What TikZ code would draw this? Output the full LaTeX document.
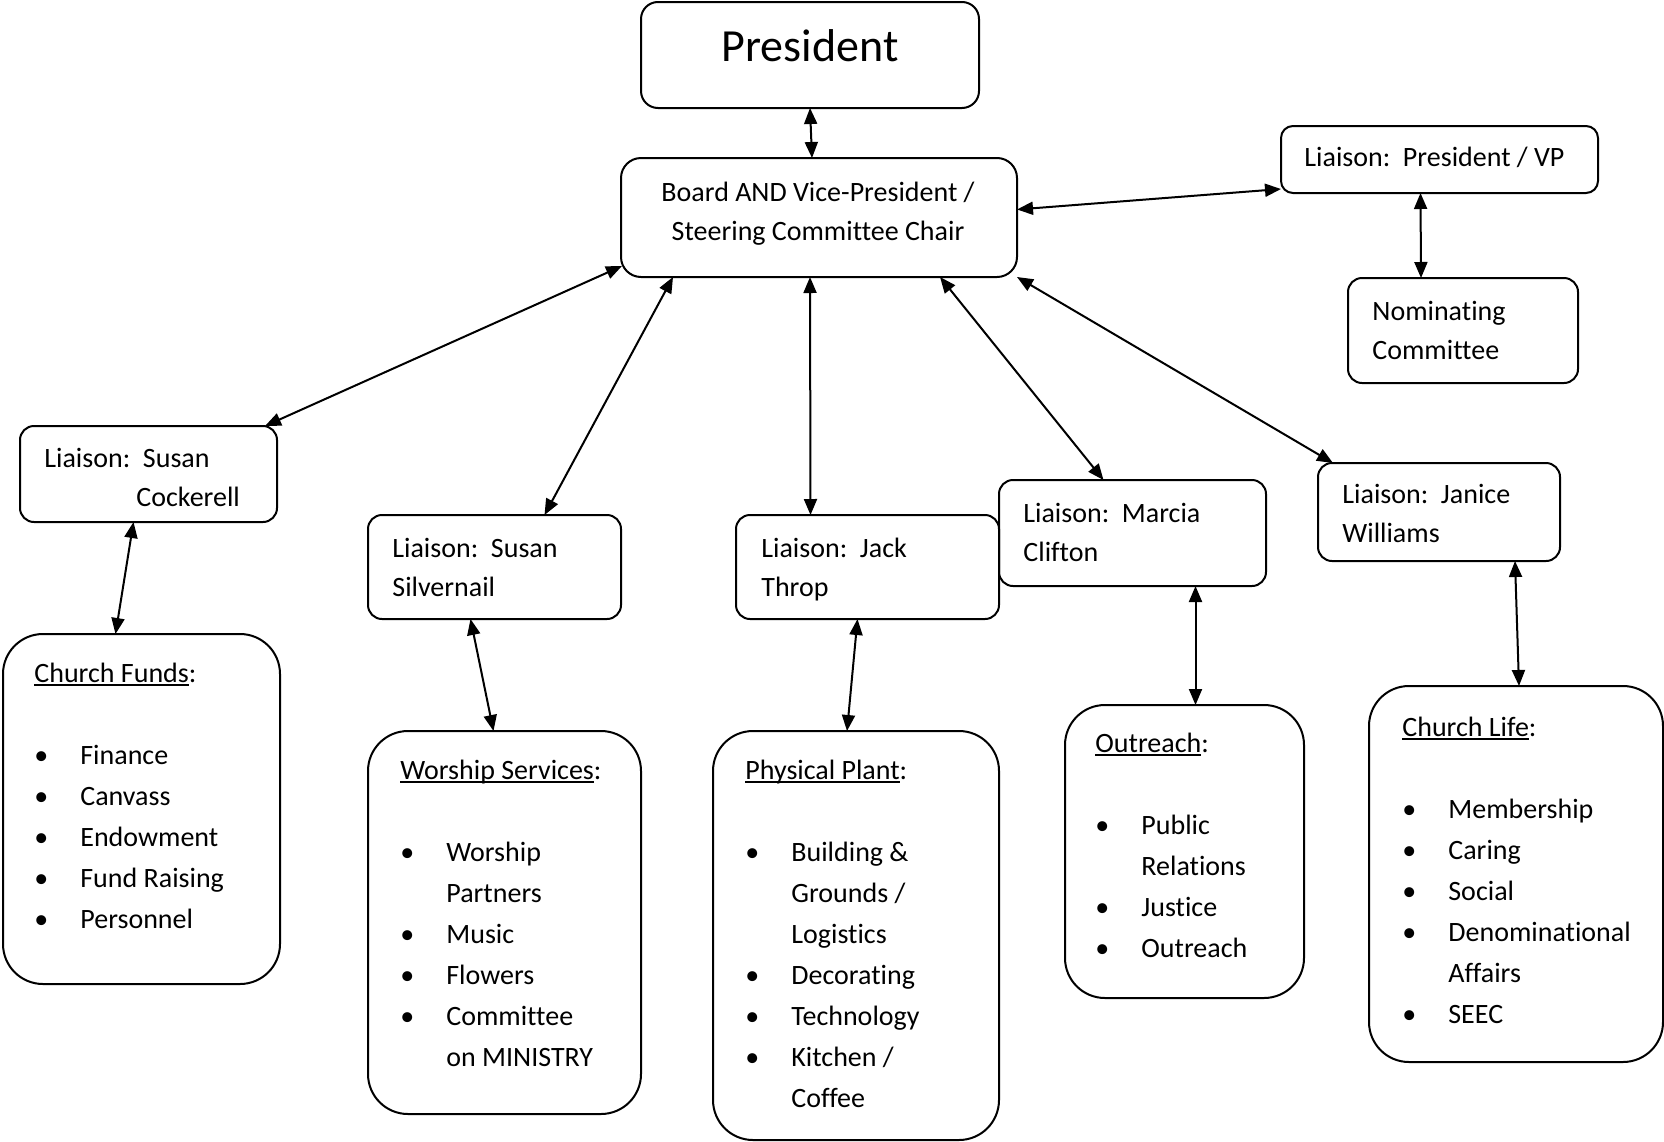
\documentclass[tikz,border=0pt]{standalone}
\usepackage{fontspec}
\setmainfont{Carlito}[Ligatures=NoCommon]
\usetikzlibrary{arrows.meta}

% bullet and indent for the lists
\newcommand\bul{\makebox[23pt][l]{\textbullet}}
\newcommand\itemgap{\hspace*{23pt}}
\newlength\ulwd
\newcommand\headul[1]{\settowidth\ulwd{#1}\rlap{\rule[-2pt]{\ulwd}{0.9pt}}#1}

\tikzset{
	box/.style={draw, line width=1pt, rounded corners=7pt, anchor=north west, inner sep=0pt, outer sep=0pt},
	listbox/.style={box, rounded corners=20pt},
	txt/.style={anchor=north west, align=left, inner sep=0pt, font=\fontsize{14}{19.75}\selectfont},
	listtxt/.style={txt, font=\fontsize{14}{20.5}\selectfont},
	link/.style={{Triangle[length=8pt,width=6.5pt]}-{Triangle[length=8pt,width=6.5pt]}, line width=1pt}
}

\begin{document}
\begin{tikzpicture}[x=0.5pt, y=-0.5pt]
	\useasboundingbox (0,0) rectangle (1664,1141);
	
	% Kasten oben
	\node[box, rounded corners=8.5pt, minimum width=169pt, minimum height=53pt] (pres) at (641,2) {};
	\node[box, rounded corners=10pt, minimum width=198pt, minimum height=59.5pt] (board) at (621,158) {};
	\node[box, rounded corners=6pt, minimum width=158.5pt, minimum height=33.5pt] (lpvp) at (1281,126) {};
	\node[box, minimum width=115pt, minimum height=52.5pt] (nom) at (1348,278) {};
	
	% Liaison-Kaesten
	\node[box, minimum width=128.5pt, minimum height=48pt] (lcock) at (20,426) {};
	\node[box, minimum width=126.5pt, minimum height=52pt] (lsilv) at (368,515) {};
	\node[box, minimum width=131.5pt, minimum height=52pt] (lthrop) at (736,515) {};
	\node[box, minimum width=133.5pt, minimum height=53pt] (lclif) at (999,480) {};
	\node[box, minimum width=121pt, minimum height=49pt] (ljan) at (1318,463) {};
	
	% Listen-Kaesten
	\node[listbox, minimum width=138.5pt, minimum height=175pt] (funds) at (3,634) {};
	\node[listbox, minimum width=136.5pt, minimum height=191.5pt] (worship) at (368,731) {};
	\node[listbox, minimum width=143pt, minimum height=204.5pt] (plant) at (713,731) {};
	\node[listbox, minimum width=119.5pt, minimum height=146.5pt] (outr) at (1065,705) {};
	\node[listbox, minimum width=147pt, minimum height=188pt] (life) at (1369,686) {};
	
	% Texte
	\node[anchor=base, inner sep=0pt, font=\fontsize{23}{28}\selectfont] (pres-t) at ([shift={(0,59)}]pres.north) {President};
	\node[txt, align=center, anchor=north] (board-t) at ([shift={(-1,15)}]board.north) {\strut Board AND Vice-President /\\Steering Committee Chair};
	\node[txt] (lpvp-t) at ([shift={(23,12)}]lpvp.north west) {\strut Liaison:\ \ President / VP};
	\node[txt] (nom-t) at ([shift={(24,14)}]nom.north west) {\strut Nominating\\Committee};
	\node[txt] (lcock-t) at ([shift={(24,13)}]lcock.north west) {\strut Liaison:\ \ Susan\\\hspace*{46pt}Cockerell};
	\node[txt] (lsilv-t) at ([shift={(24,14)}]lsilv.north west) {\strut Liaison:\ \ Susan\\Silvernail};
	\node[txt] (lthrop-t) at ([shift={(25,14)}]lthrop.north west) {\strut Liaison:\ \ Jack\\Throp};
	\node[txt] (lclif-t) at ([shift={(24,14)}]lclif.north west) {\strut Liaison:\ \ Marcia\\Clifton};
	\node[txt] (ljan-t) at ([shift={(24,12)}]ljan.north west) {\strut Liaison:\ \ Janice\\Williams};
	
	\node[listtxt] (funds-t) at ([shift={(31,19)}]funds.north west) {\strut\headul{Church Funds}:\\[20.5pt]\bul Finance\\\bul Canvass\\\bul Endowment\\\bul Fund Raising\\\bul Personnel};
	\node[listtxt] (worship-t) at ([shift={(32,19)}]worship.north west) {\strut\headul{Worship Services}:\\[20.5pt]\bul Worship\\\itemgap Partners\\\bul Music\\\bul Flowers\\\bul Committee\\\itemgap on MINISTRY};
	\node[listtxt] (plant-t) at ([shift={(32,19)}]plant.north west) {\strut\headul{Physical Plant}:\\[20.5pt]\bul Building \&\\\itemgap Grounds /\\\itemgap Logistics\\\bul Decorating\\\bul Technology\\\bul Kitchen /\\\itemgap Coffee};
	\node[listtxt] (outr-t) at ([shift={(30,18)}]outr.north west) {\strut\headul{Outreach}:\\[20.5pt]\bul Public\\\itemgap Relations\\\bul Justice\\\bul Outreach};
	\node[listtxt] (life-t) at ([shift={(33,21)}]life.north west) {\strut\headul{Church Life}:\\[20.5pt]\bul Membership\\\bul Caring\\\bul Social\\\bul Denominational\\\itemgap Affairs\\\bul SEEC};
	
	% Pfeile
	\draw[link] (pres.south) -- ([shift={(-7,0)}]board.north);
	\draw[link] ([shift={(0,-8)}]board.east) -- ([shift={(0,-4)}]lpvp.south west);
	\draw[link] ([shift={(-19,0)}]lpvp.south) -- ([shift={(-42,0)}]nom.north);
	\draw[link] ([shift={(1,-11)}]board.south west) -- ([shift={(-12,0)}]lcock.north east);
	\draw[link] ([shift={(-146,0)}]board.south) -- ([shift={(50,0)}]lsilv.north);
	\draw[link] ([shift={(-9,0)}]board.south) -- ([shift={(-57,0)}]lthrop.north);
	\draw[link] ([shift={(121,0)}]board.south) -- ([shift={(-29,0)}]lclif.north);
	\draw[link] (board.south east) -- ([shift={(15,0)}]ljan.north west);
	\draw[link] ([shift={(-15,0)}]lcock.south) -- ([shift={(-26,0)}]funds.north);
	\draw[link] ([shift={(-24,0)}]lsilv.south) -- ([shift={(-11,0)}]worship.north);
	\draw[link] ([shift={(-10,0)}]lthrop.south) -- ([shift={(-9,0)}]plant.north);
	\draw[link] ([shift={(63,0)}]lclif.south) -- ([shift={(11,0)}]outr.north);
	\draw[link] ([shift={(76,0)}]ljan.south) -- ([shift={(3,0)}]life.north);
\end{tikzpicture}
\end{document}
